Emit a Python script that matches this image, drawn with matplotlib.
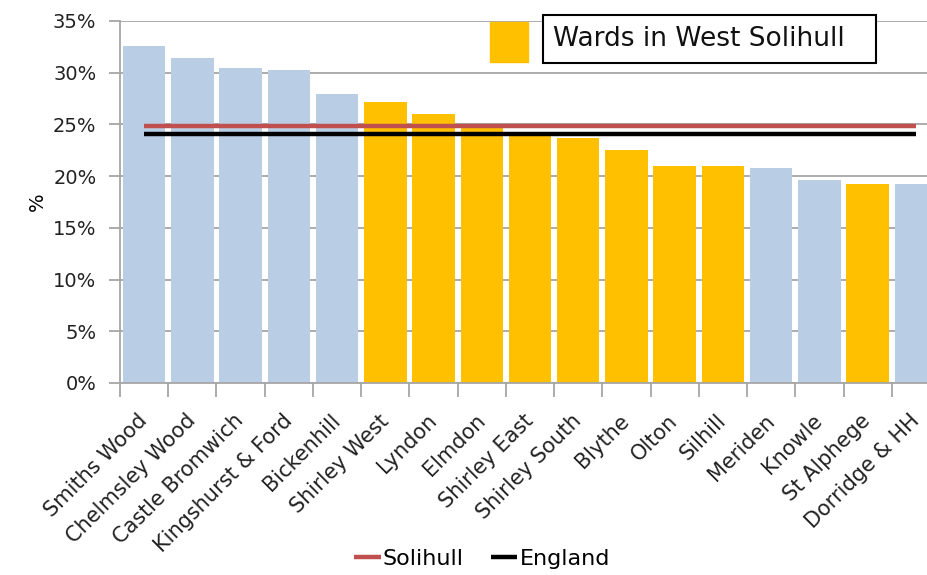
import matplotlib
matplotlib.use("Agg")
import matplotlib.pyplot as plt
from matplotlib.patches import Rectangle
from matplotlib.ticker import FixedLocator, PercentFormatter

# ward values (% of population)
wards = ["Smiths Wood", "Chelmsley Wood", "Castle Bromwich", "Kingshurst & Ford",
         "Bickenhill", "Shirley West", "Lyndon", "Elmdon", "Shirley East",
         "Shirley South", "Blythe", "Olton", "Silhill", "Meriden", "Knowle",
         "St Alphege", "Dorridge & HH"]
values = [32.6, 31.4, 30.5, 30.3, 27.9, 27.2, 26.0, 24.8, 24.1,
          23.7, 22.5, 21.0, 21.0, 20.8, 19.6, 19.2, 19.2]
west = [False, False, False, False, False, True, True, True, True,
        True, True, True, True, False, False, True, False]

solihull = 24.85
england = 24.07

BLUE = "#b9cde5"
YELLOW = "#ffc000"
RED = "#c0504d"
GRID = "#a6a6a6"

fig = plt.figure(figsize=(9.28, 5.75), dpi=100)
ax = fig.add_axes([120 / 928, 1 - 383 / 575, 820 / 928, 362 / 575])

x = list(range(len(wards)))
colors = [YELLOW if w else BLUE for w in west]
ax.bar(x, values, width=0.88, color=colors, zorder=2)

l1, = ax.plot(x, [solihull] * len(x), color=RED, lw=3.2, solid_capstyle="butt", zorder=3)
l2, = ax.plot(x, [england] * len(x), color="black", lw=3.2, solid_capstyle="butt", zorder=3)

ax.set_xlim(-0.5, len(wards) - 0.5)
ax.set_ylim(0, 35)
ax.set_yticks(range(0, 36, 5))
ax.yaxis.set_major_formatter(PercentFormatter(decimals=0))
ax.grid(axis="y", color=GRID, lw=1.3, zorder=0)

# labels at centres, tick marks at category boundaries (Excel style)
ax.set_xticks(x)
ax.set_xticklabels(wards, rotation=45, ha="right", va="center",
                   rotation_mode="anchor", fontsize=15, color="#222222")
ax.xaxis.set_minor_locator(FixedLocator([i - 0.5 for i in range(len(wards) + 1)]))
ax.tick_params(axis="x", which="major", length=0, pad=25)
ax.tick_params(axis="x", which="minor", length=10, color=GRID, width=1.3)
ax.tick_params(axis="y", length=8, color=GRID, width=1.3, pad=9,
               labelsize=14, labelcolor="#222222")

for s in ["top", "right"]:
    ax.spines[s].set_visible(False)
for s in ["left", "bottom"]:
    ax.spines[s].set_color(GRID)
    ax.spines[s].set_linewidth(1.3)

ax.set_ylabel("%", fontsize=14, labelpad=4)

# "Wards in West Solihull" key
fig.patches.append(Rectangle((490 / 928, 1 - 62 / 575), 38 / 928, 40 / 575,
                             transform=fig.transFigure, color=YELLOW))
fig.patches.append(Rectangle((543 / 928, 1 - 63 / 575), 333 / 928, 48 / 575,
                             transform=fig.transFigure, fc="white", ec="black", lw=1.5))
fig.text(553 / 928, 1 - 39 / 575, "Wards in West Solihull", fontsize=19,
         va="center", ha="left", color="#111111")

fig.legend([l1, l2], ["Solihull", "England"], loc="center", ncol=2,
           bbox_to_anchor=(482 / 928, 1 - 559 / 575), frameon=False,
           fontsize=16, handlelength=1.2, handletextpad=0.1, columnspacing=1.2)

fig.savefig("out.png", dpi=100)
